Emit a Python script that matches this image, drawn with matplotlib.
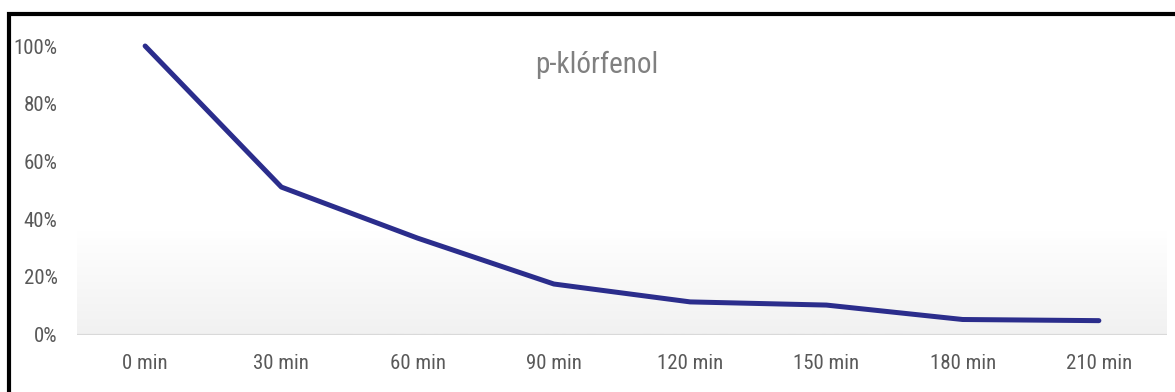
import matplotlib.pyplot as plt
import numpy as np
from matplotlib.patches import Rectangle
from matplotlib.colors import LinearSegmentedColormap

# data
times = ['0 min', '30 min', '60 min', '90 min', '120 min', '150 min', '180 min', '210 min']
pct = [100, 51.1, 33.4, 17.5, 11.3, 10.2, 5.2, 4.8]
yticks = [0, 20, 40, 60, 80, 100]

plt.rcParams['font.family'] = ['Roboto Condensed', 'DejaVu Sans']

W, H = 1175, 392
fig = plt.figure(figsize=(W / 100, H / 100), dpi=100)
ax = fig.add_axes([77 / W, (H - 334.5) / H, (1167 - 77) / W, (334.5 - 46) / H])

x = np.arange(len(times))

# soft grey gradient at the bottom of the plot area (white on top, grey at the base)
grad = np.linspace(0, 1, 100).reshape(-1, 1)
cmap = LinearSegmentedColormap.from_list('g', ['#ffffff', '#f1f1f1'])
ax.imshow(grad, cmap=cmap, extent=(-0.5, len(times) - 0.5, 0, 36), aspect='auto', zorder=0)
ax.set_xlim(-0.5, len(times) - 0.5)
ax.set_ylim(0, 100)

ax.axhline(0, color='#d9d9d9', lw=1.6, zorder=1)
ax.plot(x, pct, color='#2b2d8c', lw=3.6, solid_capstyle='round', solid_joinstyle='round',
        clip_on=False, zorder=3)

for s in ax.spines.values():
    s.set_visible(False)
ax.set_xticks(x)
ax.set_xticklabels(times)
ax.set_yticks(yticks)
ax.set_yticklabels([f'{v}%' for v in yticks])
ax.tick_params(length=0, labelsize=15, colors='#595959')
ax.tick_params(axis='x', pad=14)
ax.tick_params(axis='y', pad=14)

fig.text(597 / W, 1 - 65 / H, 'p-klórfenol', ha='center', va='center', fontsize=21, color='#808080')

# outer frame (cut off at right and bottom in the reference)
fig.patches.append(Rectangle((9.3 / W, -0.1), 1.2, 1 - 14 / H + 0.1, transform=fig.transFigure,
                             fill=False, ec='black', lw=3, clip_on=False))

fig.savefig('out.png', dpi=100)
